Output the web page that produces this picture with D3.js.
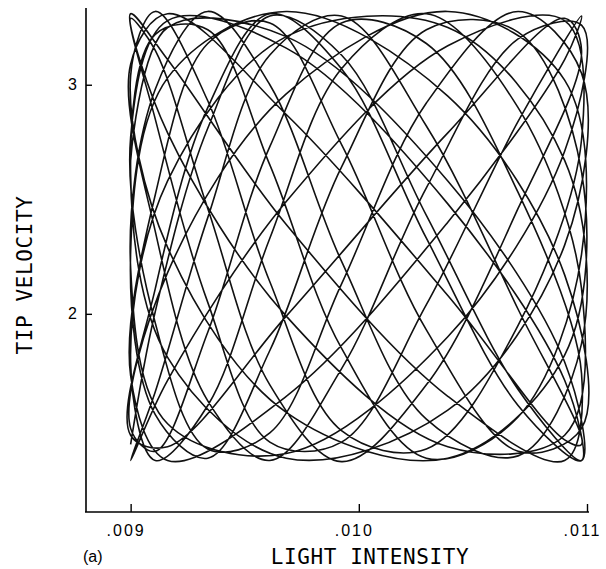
<!DOCTYPE html>
<html>
<head>
<meta charset="utf-8">
<script src="https://cdn.jsdelivr.net/npm/d3@7"></script>
<style>
  html, body { margin: 0; padding: 0; background: #fff; }
  svg { display: block; }
</style>
</head>
<body>
<svg id="chart" width="606" height="569"></svg>
<script>
// Tip trajectory: light intensity (x) and tip velocity (y), in time order
const intensity = [
  0.009, 0.009162, 0.009682, 0.01039, 0.010902, 0.010976, 0.010698, 0.010296, 0.009924, 0.00961, 0.009338, 0.009108,
  0.009, 0.009162, 0.009682, 0.01039, 0.010902, 0.010976, 0.010698, 0.010296, 0.009924, 0.00961, 0.009338, 0.009108,
  0.009, 0.009162, 0.009682, 0.01039, 0.010902, 0.010976, 0.010698, 0.010296, 0.009924, 0.00961, 0.009338, 0.009108,
  0.009, 0.009162, 0.009682, 0.01039, 0.010902, 0.010976, 0.010698, 0.010296, 0.009924, 0.00961, 0.009338, 0.009108,
  0.009, 0.009162, 0.009682, 0.01039, 0.010902, 0.010976, 0.010698, 0.010296, 0.009924, 0.00961, 0.009338, 0.009108,
  0.009, 0.009162, 0.009682, 0.01039, 0.010902, 0.010976, 0.010698, 0.010296, 0.009924, 0.00961, 0.009338, 0.009108,
  0.009, 0.009162, 0.009682, 0.01039, 0.010902, 0.010976, 0.010698, 0.010296, 0.009924, 0.00961, 0.009338, 0.009108,
  0.009, 0.009162, 0.009682, 0.01039, 0.010902, 0.010976, 0.010698, 0.010296, 0.009924, 0.00961, 0.009338, 0.009108,
  0.009, 0.009162, 0.009682, 0.01039, 0.010902, 0.010976, 0.010698, 0.010296, 0.009924, 0.00961, 0.009338, 0.009108,
  0.009, 0.009162, 0.009682, 0.01039, 0.010902, 0.010976, 0.010698, 0.010296, 0.009924, 0.00961, 0.009338, 0.009108,
  0.009, 0.009162, 0.009682, 0.01039, 0.010902, 0.010976, 0.010698, 0.010296, 0.009924, 0.00961, 0.009338, 0.009108,
  0.009, 0.009162, 0.009682, 0.01039, 0.010902, 0.010976, 0.010698, 0.010296, 0.009924, 0.00961, 0.009338, 0.009108,
  0.009, 0.009162, 0.009682, 0.01039, 0.010902, 0.010976, 0.010698, 0.010296, 0.009924, 0.00961, 0.009338, 0.009108,
  0.009, 0.009162, 0.009682, 0.01039, 0.010902, 0.010976, 0.010698, 0.010296, 0.009924, 0.00961, 0.009338, 0.009108,
  0.009
];
const velocity = [
  2.67, 3.25, 3.21, 2.58, 1.79, 1.36, 1.60, 2.33, 3.07, 3.31, 2.90, 2.11, 1.47, 1.42, 1.99,
  2.79, 3.29, 3.15, 2.46, 1.69, 1.355, 1.69, 2.46, 3.15, 3.29, 2.79, 1.99, 1.42, 1.47, 2.11,
  2.90, 3.31, 3.07, 2.33, 1.60, 1.36, 1.79, 2.58, 3.21, 3.25, 2.67, 1.87, 1.38, 1.54, 2.23,
  3.00, 3.32, 2.98, 2.20, 1.52, 1.39, 1.90, 2.71, 3.26, 3.20, 2.55, 1.76, 1.36, 1.62, 2.36,
  3.09, 3.31, 2.87, 2.08, 1.45, 1.43, 2.02, 2.82, 3.30, 3.13, 2.42, 1.66, 1.36, 1.71, 2.49,
  3.17, 3.28, 2.76, 1.95, 1.41, 1.49, 2.14, 2.93, 3.32, 3.04, 2.29, 1.57, 1.37, 1.82, 2.62,
  3.23, 3.24, 2.64, 1.84, 1.37, 1.56, 2.27, 3.03, 3.32, 2.95, 2.17, 1.50, 1.40, 1.93, 2.74,
  3.27, 3.18, 2.52, 1.73, 1.36, 1.64, 2.40, 3.11, 3.30, 2.84, 2.04, 1.44, 1.44, 2.05, 2.85,
  3.31, 3.11, 2.39, 1.64, 1.36, 1.74, 2.53, 3.18, 3.27, 2.73, 1.92, 1.40, 1.50, 2.18, 2.96,
  3.32, 3.02, 2.26, 1.55, 1.37, 1.85, 2.65, 3.24, 3.22, 2.61, 1.81, 1.37, 1.58, 2.30, 3.05,
  3.32, 2.92, 2.13, 1.48, 1.41, 1.96, 2.77, 3.28, 3.16, 2.48, 1.71, 1.36, 1.67, 2.43, 3.13,
  3.30, 2.81, 2.01, 1.43
];
const xTicks = [0.009, 0.010, 0.011];
const xTickLabels = [".009", ".010", ".011"];
const yTicks = [2, 3];
const yTickLabels = ["2", "3"];
const xTitle = "LIGHT INTENSITY";
const yTitle = "TIP VELOCITY";
const panelLabel = "(a)";

const svg = d3.select("#chart");
const x = d3.scaleLinear().domain([0.0088, 0.011]).range([85, 587]);
const y = d3.scaleLinear().domain([1.135, 3.335]).range([512, 8]);

const points = intensity.map((v, i) => [v, velocity[i]]);

// trajectory
const line = d3.line()
  .x(d => x(d[0]))
  .y(d => y(d[1]))
  .curve(d3.curveCatmullRom.alpha(0.5));

svg.append("path")
  .datum(points)
  .attr("d", line)
  .attr("fill", "none")
  .attr("stroke", "#111")
  .attr("stroke-width", 1.6)
  .attr("stroke-linejoin", "round");

// x axis
const xAxis = svg.append("g")
  .attr("transform", "translate(0,512)")
  .call(d3.axisBottom(x)
    .tickValues(xTicks)
    .tickFormat((d, i) => xTickLabels[i])
    .tickSizeInner(-8)
    .tickSizeOuter(0)
    .tickPadding(12.6));
xAxis.select(".domain").remove();
xAxis.append("line").attr("x1", 85).attr("x2", 589).attr("y1", 0).attr("y2", 0)
  .attr("stroke", "#000").attr("stroke-width", 1.6);
xAxis.selectAll(".tick line").attr("stroke", "#000").attr("stroke-width", 1.4);
xAxis.selectAll(".tick text")
  .attr("x", -5)
  .attr("fill", "#000")
  .style("font-family", "'Liberation Sans', Arial, sans-serif")
  .style("font-size", "16px")
  .style("letter-spacing", "2px");

// y axis
const yAxis = svg.append("g")
  .attr("transform", "translate(86,0)")
  .call(d3.axisLeft(y)
    .tickValues(yTicks)
    .tickFormat((d, i) => yTickLabels[i])
    .tickSizeInner(-6)
    .tickSizeOuter(0)
    .tickPadding(9));
yAxis.select(".domain").remove();
yAxis.append("line").attr("x1", 0).attr("x2", 0).attr("y1", 8).attr("y2", 512)
  .attr("stroke", "#000").attr("stroke-width", 1.6);
yAxis.selectAll(".tick line").attr("stroke", "#000").attr("stroke-width", 1.4);
yAxis.selectAll(".tick text")
  .attr("fill", "#000")
  .style("font-family", "'Liberation Sans', Arial, sans-serif")
  .style("font-size", "16px");

// titles
svg.append("text")
  .attr("x", 370).attr("y", 564)
  .attr("text-anchor", "middle")
  .style("font-family", "'DejaVu Sans Mono', monospace")
  .style("font-size", "21px")
  .style("letter-spacing", "0.6px")
  .text(xTitle);

svg.append("text")
  .attr("transform", "translate(32,275) rotate(-90)")
  .attr("text-anchor", "middle")
  .style("font-family", "'DejaVu Sans Mono', monospace")
  .style("font-size", "21px")
  .style("letter-spacing", "0.6px")
  .text(yTitle);

svg.append("text")
  .attr("x", 83).attr("y", 562)
  .style("font-family", "'Liberation Sans', Arial, sans-serif")
  .style("font-size", "16px")
  .text(panelLabel);
</script>
</body>
</html>
